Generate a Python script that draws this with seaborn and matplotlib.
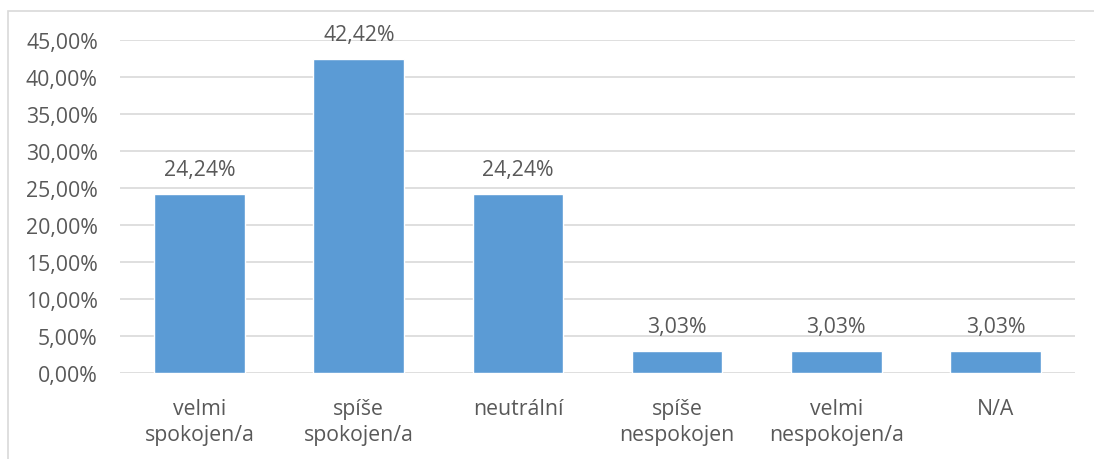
import matplotlib
matplotlib.use("Agg")
import matplotlib.pyplot as plt
import matplotlib.patches as mpatches
from matplotlib.ticker import FuncFormatter, MultipleLocator
import seaborn as sns
import pandas as pd

categories = ["velmi\nspokojen/a", "spíše\nspokojen/a", "neutrální",
              "spíše\nnespokojen", "velmi\nnespokojen/a", "N/A"]
values = [24.24, 42.42, 24.24, 3.03, 3.03, 3.03]

sns.set_theme(style="white")
plt.rcParams['font.family'] = ['Open Sans', 'DejaVu Sans']
txt = "#595959"

fig = plt.figure(figsize=(10.94, 4.60), dpi=100)
ax = fig.add_axes([120/1094, 1-374/460, (1075-120)/1094, (374-41)/460])

df = pd.DataFrame({"cat": categories, "val": values})
sns.barplot(data=df, x="cat", y="val", color="#5B9BD5", saturation=1,
            width=0.57, ax=ax, zorder=3)

ax.set_ylim(0, 45)
ax.set_xlim(-0.5, len(categories) - 0.5)
ax.yaxis.set_major_locator(MultipleLocator(5))
ax.yaxis.set_major_formatter(FuncFormatter(lambda v, p: f"{v:.2f}".replace(".", ",") + "%"))
ax.grid(axis="y", color="#D9D9D9", linewidth=1.2, zorder=0)
ax.set_axisbelow(True)
for s in ax.spines.values():
    s.set_visible(False)
ax.set_xlabel("")
ax.set_ylabel("")
ax.tick_params(axis="y", length=0, pad=16, labelsize=15.3, labelcolor=txt)
ax.tick_params(axis="x", length=0, pad=18, labelsize=15.3, labelcolor=txt)
for t in ax.get_xticklabels():
    t.set_linespacing(1.3)

labels = [f"{v:.2f}".replace(".", ",") + "%" for v in values]
ax.bar_label(ax.containers[0], labels=labels, padding=10, fontsize=15.3, color=txt)

fig.patches.append(mpatches.Rectangle((8/1094, -0.1), 1.2, 1 - 12/460 + 0.1,
                                      transform=fig.transFigure, fill=False,
                                      edgecolor="#D9D9D9", linewidth=1.2))

fig.savefig("out.png", dpi=100, facecolor="white")
